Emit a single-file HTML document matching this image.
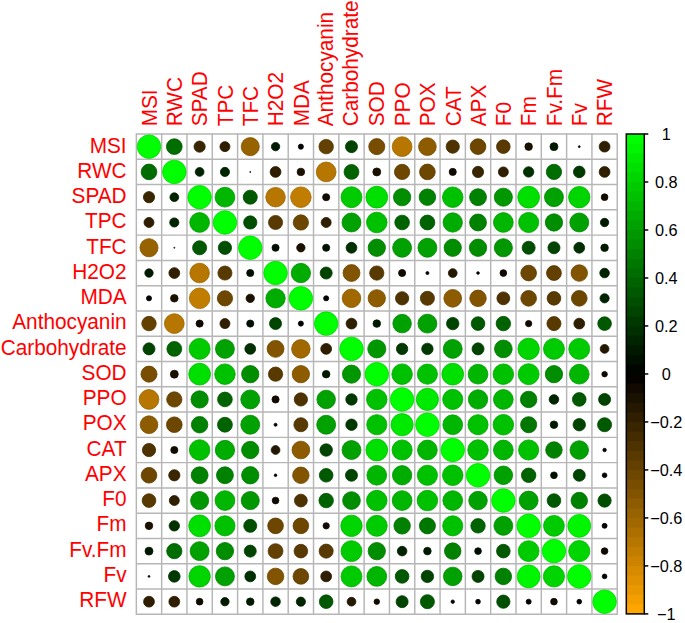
<!DOCTYPE html>
<html><head><meta charset="utf-8"><style>
html,body{margin:0;padding:0;background:#fff;}
body{width:685px;height:623px;overflow:hidden;}
svg{display:block;font-family:"Liberation Sans",sans-serif;}
</style></head><body>
<svg width="685" height="623" viewBox="0 0 685 623">
<rect width="685" height="623" fill="#fff"/>
<g stroke="#B6B6B6" stroke-width="1.45"><line x1="136.35" y1="133.28" x2="136.35" y2="615.05"/><line x1="136.35" y1="134.00" x2="617.24" y2="134.00"/><line x1="161.66" y1="133.28" x2="161.66" y2="615.05"/><line x1="136.35" y1="159.28" x2="617.24" y2="159.28"/><line x1="186.97" y1="133.28" x2="186.97" y2="615.05"/><line x1="136.35" y1="184.56" x2="617.24" y2="184.56"/><line x1="212.28" y1="133.28" x2="212.28" y2="615.05"/><line x1="136.35" y1="209.84" x2="617.24" y2="209.84"/><line x1="237.59" y1="133.28" x2="237.59" y2="615.05"/><line x1="136.35" y1="235.12" x2="617.24" y2="235.12"/><line x1="262.90" y1="133.28" x2="262.90" y2="615.05"/><line x1="136.35" y1="260.40" x2="617.24" y2="260.40"/><line x1="288.21" y1="133.28" x2="288.21" y2="615.05"/><line x1="136.35" y1="285.68" x2="617.24" y2="285.68"/><line x1="313.52" y1="133.28" x2="313.52" y2="615.05"/><line x1="136.35" y1="310.96" x2="617.24" y2="310.96"/><line x1="338.83" y1="133.28" x2="338.83" y2="615.05"/><line x1="136.35" y1="336.24" x2="617.24" y2="336.24"/><line x1="364.14" y1="133.28" x2="364.14" y2="615.05"/><line x1="136.35" y1="361.52" x2="617.24" y2="361.52"/><line x1="389.45" y1="133.28" x2="389.45" y2="615.05"/><line x1="136.35" y1="386.80" x2="617.24" y2="386.80"/><line x1="414.76" y1="133.28" x2="414.76" y2="615.05"/><line x1="136.35" y1="412.08" x2="617.24" y2="412.08"/><line x1="440.07" y1="133.28" x2="440.07" y2="615.05"/><line x1="136.35" y1="437.36" x2="617.24" y2="437.36"/><line x1="465.38" y1="133.28" x2="465.38" y2="615.05"/><line x1="136.35" y1="462.64" x2="617.24" y2="462.64"/><line x1="490.69" y1="133.28" x2="490.69" y2="615.05"/><line x1="136.35" y1="487.92" x2="617.24" y2="487.92"/><line x1="516.00" y1="133.28" x2="516.00" y2="615.05"/><line x1="136.35" y1="513.20" x2="617.24" y2="513.20"/><line x1="541.31" y1="133.28" x2="541.31" y2="615.05"/><line x1="136.35" y1="538.48" x2="617.24" y2="538.48"/><line x1="566.62" y1="133.28" x2="566.62" y2="615.05"/><line x1="136.35" y1="563.76" x2="617.24" y2="563.76"/><line x1="591.93" y1="133.28" x2="591.93" y2="615.05"/><line x1="136.35" y1="589.04" x2="617.24" y2="589.04"/><line x1="617.24" y1="133.28" x2="617.24" y2="615.05"/><line x1="136.35" y1="614.32" x2="617.24" y2="614.32"/></g><g><circle cx="149.00" cy="146.64" r="11.75" fill="#00FF00" stroke="#00D900" stroke-width="0.8"/><circle cx="174.31" cy="146.64" r="7.84" fill="#006D00" stroke="#005D00" stroke-width="0.8"/><circle cx="199.62" cy="146.64" r="5.60" fill="#392500" stroke="#301F00" stroke-width="0.8"/><circle cx="224.94" cy="146.64" r="4.99" fill="#2F1E00" stroke="#281A00" stroke-width="0.8"/><circle cx="250.25" cy="146.64" r="9.06" fill="#976200" stroke="#805300" stroke-width="0.8"/><circle cx="275.55" cy="146.64" r="4.18" fill="#001A00" stroke="#001600" stroke-width="0.8"/><circle cx="300.87" cy="146.64" r="2.55" fill="#050300" stroke="#040300" stroke-width="0.8"/><circle cx="326.17" cy="146.64" r="7.23" fill="#634000" stroke="#543600" stroke-width="0.8"/><circle cx="351.49" cy="146.64" r="6.01" fill="#004400" stroke="#003A00" stroke-width="0.8"/><circle cx="376.79" cy="146.64" r="8.04" fill="#784D00" stroke="#664100" stroke-width="0.8"/><circle cx="402.11" cy="146.64" r="9.88" fill="#B67600" stroke="#9B6400" stroke-width="0.8"/><circle cx="427.41" cy="146.64" r="8.86" fill="#8D5B00" stroke="#784D00" stroke-width="0.8"/><circle cx="452.73" cy="146.64" r="6.62" fill="#4E3300" stroke="#422B00" stroke-width="0.8"/><circle cx="478.03" cy="146.64" r="7.84" fill="#6D4700" stroke="#5D3C00" stroke-width="0.8"/><circle cx="503.35" cy="146.64" r="6.82" fill="#583900" stroke="#4B3000" stroke-width="0.8"/><circle cx="528.65" cy="146.64" r="3.77" fill="#1A1100" stroke="#160E00" stroke-width="0.8"/><circle cx="553.96" cy="146.64" r="3.97" fill="#001A00" stroke="#001600" stroke-width="0.8"/><circle cx="579.27" cy="146.64" r="0.92" fill="#000500" stroke="#000400" stroke-width="0.8"/><circle cx="604.58" cy="146.64" r="5.40" fill="#2F1E00" stroke="#281A00" stroke-width="0.8"/><circle cx="149.00" cy="171.92" r="7.84" fill="#006D00" stroke="#005D00" stroke-width="0.8"/><circle cx="174.31" cy="171.92" r="11.75" fill="#00FF00" stroke="#00D900" stroke-width="0.8"/><circle cx="199.62" cy="171.92" r="4.38" fill="#002400" stroke="#001F00" stroke-width="0.8"/><circle cx="224.94" cy="171.92" r="4.58" fill="#002400" stroke="#001F00" stroke-width="0.8"/><circle cx="250.25" cy="171.92" r="0.51" fill="#000500" stroke="#000400" stroke-width="0.8"/><circle cx="275.55" cy="171.92" r="5.40" fill="#2F1E00" stroke="#281A00" stroke-width="0.8"/><circle cx="300.87" cy="171.92" r="3.77" fill="#1A1100" stroke="#160E00" stroke-width="0.8"/><circle cx="326.17" cy="171.92" r="9.88" fill="#B67600" stroke="#9B6400" stroke-width="0.8"/><circle cx="351.49" cy="171.92" r="7.43" fill="#006300" stroke="#005400" stroke-width="0.8"/><circle cx="376.79" cy="171.92" r="3.97" fill="#1A1100" stroke="#160E00" stroke-width="0.8"/><circle cx="402.11" cy="171.92" r="7.64" fill="#6D4700" stroke="#5D3C00" stroke-width="0.8"/><circle cx="427.41" cy="171.92" r="7.84" fill="#6D4700" stroke="#5D3C00" stroke-width="0.8"/><circle cx="452.73" cy="171.92" r="3.57" fill="#100A00" stroke="#0E0800" stroke-width="0.8"/><circle cx="478.03" cy="171.92" r="5.60" fill="#392500" stroke="#301F00" stroke-width="0.8"/><circle cx="503.35" cy="171.92" r="4.99" fill="#2F1E00" stroke="#281A00" stroke-width="0.8"/><circle cx="528.65" cy="171.92" r="5.19" fill="#002F00" stroke="#002800" stroke-width="0.8"/><circle cx="553.96" cy="171.92" r="7.64" fill="#006D00" stroke="#005D00" stroke-width="0.8"/><circle cx="579.27" cy="171.92" r="5.81" fill="#003900" stroke="#003000" stroke-width="0.8"/><circle cx="604.58" cy="171.92" r="5.40" fill="#2F1E00" stroke="#281A00" stroke-width="0.8"/><circle cx="149.00" cy="197.20" r="5.60" fill="#392500" stroke="#301F00" stroke-width="0.8"/><circle cx="174.31" cy="197.20" r="4.38" fill="#002400" stroke="#001F00" stroke-width="0.8"/><circle cx="199.62" cy="197.20" r="11.75" fill="#00FF00" stroke="#00D900" stroke-width="0.8"/><circle cx="224.94" cy="197.20" r="9.88" fill="#00B600" stroke="#009B00" stroke-width="0.8"/><circle cx="250.25" cy="197.20" r="7.03" fill="#005800" stroke="#004B00" stroke-width="0.8"/><circle cx="275.55" cy="197.20" r="9.78" fill="#B67600" stroke="#9B6400" stroke-width="0.8"/><circle cx="300.87" cy="197.20" r="10.28" fill="#C17D00" stroke="#A46A00" stroke-width="0.8"/><circle cx="326.17" cy="197.20" r="3.57" fill="#100A00" stroke="#0E0800" stroke-width="0.8"/><circle cx="351.49" cy="197.20" r="10.49" fill="#00CB00" stroke="#00AD00" stroke-width="0.8"/><circle cx="376.79" cy="197.20" r="10.89" fill="#00E000" stroke="#00BE00" stroke-width="0.8"/><circle cx="402.11" cy="197.20" r="8.66" fill="#008D00" stroke="#007800" stroke-width="0.8"/><circle cx="427.41" cy="197.20" r="8.25" fill="#008200" stroke="#006E00" stroke-width="0.8"/><circle cx="452.73" cy="197.20" r="10.28" fill="#00C100" stroke="#00A400" stroke-width="0.8"/><circle cx="478.03" cy="197.20" r="8.45" fill="#008200" stroke="#006E00" stroke-width="0.8"/><circle cx="503.35" cy="197.20" r="9.06" fill="#009700" stroke="#008000" stroke-width="0.8"/><circle cx="528.65" cy="197.20" r="10.89" fill="#00E000" stroke="#00BE00" stroke-width="0.8"/><circle cx="553.96" cy="197.20" r="9.47" fill="#00A100" stroke="#008900" stroke-width="0.8"/><circle cx="579.27" cy="197.20" r="10.69" fill="#00D500" stroke="#00B500" stroke-width="0.8"/><circle cx="604.58" cy="197.20" r="3.36" fill="#100A00" stroke="#0E0800" stroke-width="0.8"/><circle cx="149.00" cy="222.48" r="4.99" fill="#2F1E00" stroke="#281A00" stroke-width="0.8"/><circle cx="174.31" cy="222.48" r="4.58" fill="#002400" stroke="#001F00" stroke-width="0.8"/><circle cx="199.62" cy="222.48" r="9.88" fill="#00B600" stroke="#009B00" stroke-width="0.8"/><circle cx="224.94" cy="222.48" r="11.75" fill="#00FF00" stroke="#00D900" stroke-width="0.8"/><circle cx="250.25" cy="222.48" r="6.62" fill="#004E00" stroke="#004200" stroke-width="0.8"/><circle cx="275.55" cy="222.48" r="7.03" fill="#583900" stroke="#4B3000" stroke-width="0.8"/><circle cx="300.87" cy="222.48" r="7.64" fill="#6D4700" stroke="#5D3C00" stroke-width="0.8"/><circle cx="326.17" cy="222.48" r="4.99" fill="#2F1E00" stroke="#281A00" stroke-width="0.8"/><circle cx="351.49" cy="222.48" r="9.47" fill="#00A100" stroke="#008900" stroke-width="0.8"/><circle cx="376.79" cy="222.48" r="10.28" fill="#00C100" stroke="#00A400" stroke-width="0.8"/><circle cx="402.11" cy="222.48" r="7.33" fill="#006300" stroke="#005400" stroke-width="0.8"/><circle cx="427.41" cy="222.48" r="7.43" fill="#006300" stroke="#005400" stroke-width="0.8"/><circle cx="452.73" cy="222.48" r="9.67" fill="#00AC00" stroke="#009200" stroke-width="0.8"/><circle cx="478.03" cy="222.48" r="8.45" fill="#008200" stroke="#006E00" stroke-width="0.8"/><circle cx="503.35" cy="222.48" r="9.88" fill="#00B600" stroke="#009B00" stroke-width="0.8"/><circle cx="528.65" cy="222.48" r="10.08" fill="#00C100" stroke="#00A400" stroke-width="0.8"/><circle cx="553.96" cy="222.48" r="8.66" fill="#008D00" stroke="#007800" stroke-width="0.8"/><circle cx="579.27" cy="222.48" r="9.47" fill="#00A100" stroke="#008900" stroke-width="0.8"/><circle cx="604.58" cy="222.48" r="4.18" fill="#001A00" stroke="#001600" stroke-width="0.8"/><circle cx="149.00" cy="247.76" r="9.06" fill="#976200" stroke="#805300" stroke-width="0.8"/><circle cx="174.31" cy="247.76" r="0.51" fill="#000500" stroke="#000400" stroke-width="0.8"/><circle cx="199.62" cy="247.76" r="7.03" fill="#005800" stroke="#004B00" stroke-width="0.8"/><circle cx="224.94" cy="247.76" r="6.62" fill="#004E00" stroke="#004200" stroke-width="0.8"/><circle cx="250.25" cy="247.76" r="11.75" fill="#00FF00" stroke="#00D900" stroke-width="0.8"/><circle cx="275.55" cy="247.76" r="3.57" fill="#001000" stroke="#000E00" stroke-width="0.8"/><circle cx="300.87" cy="247.76" r="4.18" fill="#1A1100" stroke="#160E00" stroke-width="0.8"/><circle cx="326.17" cy="247.76" r="3.57" fill="#001000" stroke="#000E00" stroke-width="0.8"/><circle cx="351.49" cy="247.76" r="5.40" fill="#002F00" stroke="#002800" stroke-width="0.8"/><circle cx="376.79" cy="247.76" r="8.66" fill="#008D00" stroke="#007800" stroke-width="0.8"/><circle cx="402.11" cy="247.76" r="9.47" fill="#00A100" stroke="#008900" stroke-width="0.8"/><circle cx="427.41" cy="247.76" r="9.47" fill="#00A100" stroke="#008900" stroke-width="0.8"/><circle cx="452.73" cy="247.76" r="8.66" fill="#008D00" stroke="#007800" stroke-width="0.8"/><circle cx="478.03" cy="247.76" r="8.66" fill="#008D00" stroke="#007800" stroke-width="0.8"/><circle cx="503.35" cy="247.76" r="9.06" fill="#009700" stroke="#008000" stroke-width="0.8"/><circle cx="528.65" cy="247.76" r="6.52" fill="#004E00" stroke="#004200" stroke-width="0.8"/><circle cx="553.96" cy="247.76" r="6.01" fill="#004400" stroke="#003A00" stroke-width="0.8"/><circle cx="579.27" cy="247.76" r="5.40" fill="#002F00" stroke="#002800" stroke-width="0.8"/><circle cx="604.58" cy="247.76" r="3.77" fill="#001A00" stroke="#001600" stroke-width="0.8"/><circle cx="149.00" cy="273.04" r="4.18" fill="#001A00" stroke="#001600" stroke-width="0.8"/><circle cx="174.31" cy="273.04" r="5.40" fill="#2F1E00" stroke="#281A00" stroke-width="0.8"/><circle cx="199.62" cy="273.04" r="9.78" fill="#B67600" stroke="#9B6400" stroke-width="0.8"/><circle cx="224.94" cy="273.04" r="7.03" fill="#583900" stroke="#4B3000" stroke-width="0.8"/><circle cx="250.25" cy="273.04" r="3.57" fill="#001000" stroke="#000E00" stroke-width="0.8"/><circle cx="275.55" cy="273.04" r="11.75" fill="#00FF00" stroke="#00D900" stroke-width="0.8"/><circle cx="300.87" cy="273.04" r="9.67" fill="#00AC00" stroke="#009200" stroke-width="0.8"/><circle cx="326.17" cy="273.04" r="6.01" fill="#004400" stroke="#003A00" stroke-width="0.8"/><circle cx="351.49" cy="273.04" r="8.45" fill="#825400" stroke="#6E4700" stroke-width="0.8"/><circle cx="376.79" cy="273.04" r="7.13" fill="#583900" stroke="#4B3000" stroke-width="0.8"/><circle cx="402.11" cy="273.04" r="3.57" fill="#100A00" stroke="#0E0800" stroke-width="0.8"/><circle cx="427.41" cy="273.04" r="1.53" fill="#050300" stroke="#040300" stroke-width="0.8"/><circle cx="452.73" cy="273.04" r="4.38" fill="#241800" stroke="#1F1400" stroke-width="0.8"/><circle cx="478.03" cy="273.04" r="1.33" fill="#000500" stroke="#000400" stroke-width="0.8"/><circle cx="503.35" cy="273.04" r="3.36" fill="#100A00" stroke="#0E0800" stroke-width="0.8"/><circle cx="528.65" cy="273.04" r="7.84" fill="#6D4700" stroke="#5D3C00" stroke-width="0.8"/><circle cx="553.96" cy="273.04" r="7.43" fill="#634000" stroke="#543600" stroke-width="0.8"/><circle cx="579.27" cy="273.04" r="8.25" fill="#825400" stroke="#6E4700" stroke-width="0.8"/><circle cx="604.58" cy="273.04" r="4.79" fill="#002400" stroke="#001F00" stroke-width="0.8"/><circle cx="149.00" cy="298.32" r="2.55" fill="#050300" stroke="#040300" stroke-width="0.8"/><circle cx="174.31" cy="298.32" r="3.77" fill="#1A1100" stroke="#160E00" stroke-width="0.8"/><circle cx="199.62" cy="298.32" r="10.28" fill="#C17D00" stroke="#A46A00" stroke-width="0.8"/><circle cx="224.94" cy="298.32" r="7.64" fill="#6D4700" stroke="#5D3C00" stroke-width="0.8"/><circle cx="250.25" cy="298.32" r="4.18" fill="#1A1100" stroke="#160E00" stroke-width="0.8"/><circle cx="275.55" cy="298.32" r="9.67" fill="#00AC00" stroke="#009200" stroke-width="0.8"/><circle cx="300.87" cy="298.32" r="11.75" fill="#00FF00" stroke="#00D900" stroke-width="0.8"/><circle cx="326.17" cy="298.32" r="2.55" fill="#050300" stroke="#040300" stroke-width="0.8"/><circle cx="351.49" cy="298.32" r="9.27" fill="#A16800" stroke="#895800" stroke-width="0.8"/><circle cx="376.79" cy="298.32" r="8.66" fill="#8D5B00" stroke="#784D00" stroke-width="0.8"/><circle cx="402.11" cy="298.32" r="6.62" fill="#4E3300" stroke="#422B00" stroke-width="0.8"/><circle cx="427.41" cy="298.32" r="7.03" fill="#583900" stroke="#4B3000" stroke-width="0.8"/><circle cx="452.73" cy="298.32" r="8.86" fill="#8D5B00" stroke="#784D00" stroke-width="0.8"/><circle cx="478.03" cy="298.32" r="8.25" fill="#825400" stroke="#6E4700" stroke-width="0.8"/><circle cx="503.35" cy="298.32" r="6.42" fill="#4E3300" stroke="#422B00" stroke-width="0.8"/><circle cx="528.65" cy="298.32" r="7.84" fill="#6D4700" stroke="#5D3C00" stroke-width="0.8"/><circle cx="553.96" cy="298.32" r="6.82" fill="#583900" stroke="#4B3000" stroke-width="0.8"/><circle cx="579.27" cy="298.32" r="7.84" fill="#6D4700" stroke="#5D3C00" stroke-width="0.8"/><circle cx="604.58" cy="298.32" r="4.58" fill="#002400" stroke="#001F00" stroke-width="0.8"/><circle cx="149.00" cy="323.60" r="7.23" fill="#634000" stroke="#543600" stroke-width="0.8"/><circle cx="174.31" cy="323.60" r="9.88" fill="#B67600" stroke="#9B6400" stroke-width="0.8"/><circle cx="199.62" cy="323.60" r="3.57" fill="#100A00" stroke="#0E0800" stroke-width="0.8"/><circle cx="224.94" cy="323.60" r="4.99" fill="#2F1E00" stroke="#281A00" stroke-width="0.8"/><circle cx="250.25" cy="323.60" r="3.57" fill="#001000" stroke="#000E00" stroke-width="0.8"/><circle cx="275.55" cy="323.60" r="6.01" fill="#004400" stroke="#003A00" stroke-width="0.8"/><circle cx="300.87" cy="323.60" r="2.55" fill="#050300" stroke="#040300" stroke-width="0.8"/><circle cx="326.17" cy="323.60" r="11.75" fill="#00FF00" stroke="#00D900" stroke-width="0.8"/><circle cx="351.49" cy="323.60" r="5.40" fill="#2F1E00" stroke="#281A00" stroke-width="0.8"/><circle cx="376.79" cy="323.60" r="3.77" fill="#001A00" stroke="#001600" stroke-width="0.8"/><circle cx="402.11" cy="323.60" r="9.27" fill="#00A100" stroke="#008900" stroke-width="0.8"/><circle cx="427.41" cy="323.60" r="9.47" fill="#00A100" stroke="#008900" stroke-width="0.8"/><circle cx="452.73" cy="323.60" r="6.21" fill="#004400" stroke="#003A00" stroke-width="0.8"/><circle cx="478.03" cy="323.60" r="6.82" fill="#005800" stroke="#004B00" stroke-width="0.8"/><circle cx="503.35" cy="323.60" r="7.23" fill="#006300" stroke="#005400" stroke-width="0.8"/><circle cx="528.65" cy="323.60" r="3.16" fill="#100A00" stroke="#0E0800" stroke-width="0.8"/><circle cx="553.96" cy="323.60" r="7.03" fill="#583900" stroke="#4B3000" stroke-width="0.8"/><circle cx="579.27" cy="323.60" r="5.40" fill="#2F1E00" stroke="#281A00" stroke-width="0.8"/><circle cx="604.58" cy="323.60" r="6.82" fill="#005800" stroke="#004B00" stroke-width="0.8"/><circle cx="149.00" cy="348.88" r="6.01" fill="#004400" stroke="#003A00" stroke-width="0.8"/><circle cx="174.31" cy="348.88" r="7.43" fill="#006300" stroke="#005400" stroke-width="0.8"/><circle cx="199.62" cy="348.88" r="10.49" fill="#00CB00" stroke="#00AD00" stroke-width="0.8"/><circle cx="224.94" cy="348.88" r="9.47" fill="#00A100" stroke="#008900" stroke-width="0.8"/><circle cx="250.25" cy="348.88" r="5.40" fill="#002F00" stroke="#002800" stroke-width="0.8"/><circle cx="275.55" cy="348.88" r="8.45" fill="#825400" stroke="#6E4700" stroke-width="0.8"/><circle cx="300.87" cy="348.88" r="9.27" fill="#A16800" stroke="#895800" stroke-width="0.8"/><circle cx="326.17" cy="348.88" r="5.40" fill="#2F1E00" stroke="#281A00" stroke-width="0.8"/><circle cx="351.49" cy="348.88" r="11.75" fill="#00FF00" stroke="#00D900" stroke-width="0.8"/><circle cx="376.79" cy="348.88" r="9.06" fill="#009700" stroke="#008000" stroke-width="0.8"/><circle cx="402.11" cy="348.88" r="5.70" fill="#003900" stroke="#003000" stroke-width="0.8"/><circle cx="427.41" cy="348.88" r="5.70" fill="#003900" stroke="#003000" stroke-width="0.8"/><circle cx="452.73" cy="348.88" r="9.47" fill="#00A100" stroke="#008900" stroke-width="0.8"/><circle cx="478.03" cy="348.88" r="6.01" fill="#004400" stroke="#003A00" stroke-width="0.8"/><circle cx="503.35" cy="348.88" r="8.86" fill="#008D00" stroke="#007800" stroke-width="0.8"/><circle cx="528.65" cy="348.88" r="10.69" fill="#00D500" stroke="#00B500" stroke-width="0.8"/><circle cx="553.96" cy="348.88" r="10.49" fill="#00CB00" stroke="#00AD00" stroke-width="0.8"/><circle cx="579.27" cy="348.88" r="10.49" fill="#00CB00" stroke="#00AD00" stroke-width="0.8"/><circle cx="604.58" cy="348.88" r="4.38" fill="#241800" stroke="#1F1400" stroke-width="0.8"/><circle cx="149.00" cy="374.16" r="8.04" fill="#784D00" stroke="#664100" stroke-width="0.8"/><circle cx="174.31" cy="374.16" r="3.97" fill="#1A1100" stroke="#160E00" stroke-width="0.8"/><circle cx="199.62" cy="374.16" r="10.89" fill="#00E000" stroke="#00BE00" stroke-width="0.8"/><circle cx="224.94" cy="374.16" r="10.28" fill="#00C100" stroke="#00A400" stroke-width="0.8"/><circle cx="250.25" cy="374.16" r="8.66" fill="#008D00" stroke="#007800" stroke-width="0.8"/><circle cx="275.55" cy="374.16" r="7.13" fill="#583900" stroke="#4B3000" stroke-width="0.8"/><circle cx="300.87" cy="374.16" r="8.66" fill="#8D5B00" stroke="#784D00" stroke-width="0.8"/><circle cx="326.17" cy="374.16" r="3.77" fill="#001A00" stroke="#001600" stroke-width="0.8"/><circle cx="351.49" cy="374.16" r="9.06" fill="#009700" stroke="#008000" stroke-width="0.8"/><circle cx="376.79" cy="374.16" r="11.75" fill="#00FF00" stroke="#00D900" stroke-width="0.8"/><circle cx="402.11" cy="374.16" r="10.28" fill="#00C100" stroke="#00A400" stroke-width="0.8"/><circle cx="427.41" cy="374.16" r="10.08" fill="#00C100" stroke="#00A400" stroke-width="0.8"/><circle cx="452.73" cy="374.16" r="10.89" fill="#00E000" stroke="#00BE00" stroke-width="0.8"/><circle cx="478.03" cy="374.16" r="9.88" fill="#00B600" stroke="#009B00" stroke-width="0.8"/><circle cx="503.35" cy="374.16" r="10.28" fill="#00C100" stroke="#00A400" stroke-width="0.8"/><circle cx="528.65" cy="374.16" r="10.49" fill="#00CB00" stroke="#00AD00" stroke-width="0.8"/><circle cx="553.96" cy="374.16" r="8.66" fill="#008D00" stroke="#007800" stroke-width="0.8"/><circle cx="579.27" cy="374.16" r="9.88" fill="#00B600" stroke="#009B00" stroke-width="0.8"/><circle cx="604.58" cy="374.16" r="2.75" fill="#100A00" stroke="#0E0800" stroke-width="0.8"/><circle cx="149.00" cy="399.44" r="9.88" fill="#B67600" stroke="#9B6400" stroke-width="0.8"/><circle cx="174.31" cy="399.44" r="7.64" fill="#6D4700" stroke="#5D3C00" stroke-width="0.8"/><circle cx="199.62" cy="399.44" r="8.66" fill="#008D00" stroke="#007800" stroke-width="0.8"/><circle cx="224.94" cy="399.44" r="7.33" fill="#006300" stroke="#005400" stroke-width="0.8"/><circle cx="250.25" cy="399.44" r="9.47" fill="#00A100" stroke="#008900" stroke-width="0.8"/><circle cx="275.55" cy="399.44" r="3.57" fill="#100A00" stroke="#0E0800" stroke-width="0.8"/><circle cx="300.87" cy="399.44" r="6.62" fill="#4E3300" stroke="#422B00" stroke-width="0.8"/><circle cx="326.17" cy="399.44" r="9.27" fill="#00A100" stroke="#008900" stroke-width="0.8"/><circle cx="351.49" cy="399.44" r="5.70" fill="#003900" stroke="#003000" stroke-width="0.8"/><circle cx="376.79" cy="399.44" r="10.28" fill="#00C100" stroke="#00A400" stroke-width="0.8"/><circle cx="402.11" cy="399.44" r="11.75" fill="#00FF00" stroke="#00D900" stroke-width="0.8"/><circle cx="427.41" cy="399.44" r="11.10" fill="#00EA00" stroke="#00C700" stroke-width="0.8"/><circle cx="452.73" cy="399.44" r="10.08" fill="#00C100" stroke="#00A400" stroke-width="0.8"/><circle cx="478.03" cy="399.44" r="9.67" fill="#00AC00" stroke="#009200" stroke-width="0.8"/><circle cx="503.35" cy="399.44" r="9.88" fill="#00B600" stroke="#009B00" stroke-width="0.8"/><circle cx="528.65" cy="399.44" r="8.25" fill="#008200" stroke="#006E00" stroke-width="0.8"/><circle cx="553.96" cy="399.44" r="4.79" fill="#002400" stroke="#001F00" stroke-width="0.8"/><circle cx="579.27" cy="399.44" r="6.82" fill="#005800" stroke="#004B00" stroke-width="0.8"/><circle cx="604.58" cy="399.44" r="6.01" fill="#004400" stroke="#003A00" stroke-width="0.8"/><circle cx="149.00" cy="424.72" r="8.86" fill="#8D5B00" stroke="#784D00" stroke-width="0.8"/><circle cx="174.31" cy="424.72" r="7.84" fill="#6D4700" stroke="#5D3C00" stroke-width="0.8"/><circle cx="199.62" cy="424.72" r="8.25" fill="#008200" stroke="#006E00" stroke-width="0.8"/><circle cx="224.94" cy="424.72" r="7.43" fill="#006300" stroke="#005400" stroke-width="0.8"/><circle cx="250.25" cy="424.72" r="9.47" fill="#00A100" stroke="#008900" stroke-width="0.8"/><circle cx="275.55" cy="424.72" r="1.53" fill="#050300" stroke="#040300" stroke-width="0.8"/><circle cx="300.87" cy="424.72" r="7.03" fill="#583900" stroke="#4B3000" stroke-width="0.8"/><circle cx="326.17" cy="424.72" r="9.47" fill="#00A100" stroke="#008900" stroke-width="0.8"/><circle cx="351.49" cy="424.72" r="5.70" fill="#003900" stroke="#003000" stroke-width="0.8"/><circle cx="376.79" cy="424.72" r="10.08" fill="#00C100" stroke="#00A400" stroke-width="0.8"/><circle cx="402.11" cy="424.72" r="11.10" fill="#00EA00" stroke="#00C700" stroke-width="0.8"/><circle cx="427.41" cy="424.72" r="11.75" fill="#00FF00" stroke="#00D900" stroke-width="0.8"/><circle cx="452.73" cy="424.72" r="9.88" fill="#00B600" stroke="#009B00" stroke-width="0.8"/><circle cx="478.03" cy="424.72" r="10.08" fill="#00C100" stroke="#00A400" stroke-width="0.8"/><circle cx="503.35" cy="424.72" r="10.28" fill="#00C100" stroke="#00A400" stroke-width="0.8"/><circle cx="528.65" cy="424.72" r="8.04" fill="#007800" stroke="#006600" stroke-width="0.8"/><circle cx="553.96" cy="424.72" r="3.77" fill="#001A00" stroke="#001600" stroke-width="0.8"/><circle cx="579.27" cy="424.72" r="6.21" fill="#004400" stroke="#003A00" stroke-width="0.8"/><circle cx="604.58" cy="424.72" r="7.03" fill="#005800" stroke="#004B00" stroke-width="0.8"/><circle cx="149.00" cy="450.00" r="6.62" fill="#4E3300" stroke="#422B00" stroke-width="0.8"/><circle cx="174.31" cy="450.00" r="3.57" fill="#100A00" stroke="#0E0800" stroke-width="0.8"/><circle cx="199.62" cy="450.00" r="10.28" fill="#00C100" stroke="#00A400" stroke-width="0.8"/><circle cx="224.94" cy="450.00" r="9.67" fill="#00AC00" stroke="#009200" stroke-width="0.8"/><circle cx="250.25" cy="450.00" r="8.66" fill="#008D00" stroke="#007800" stroke-width="0.8"/><circle cx="275.55" cy="450.00" r="4.38" fill="#241800" stroke="#1F1400" stroke-width="0.8"/><circle cx="300.87" cy="450.00" r="8.86" fill="#8D5B00" stroke="#784D00" stroke-width="0.8"/><circle cx="326.17" cy="450.00" r="6.21" fill="#004400" stroke="#003A00" stroke-width="0.8"/><circle cx="351.49" cy="450.00" r="9.47" fill="#00A100" stroke="#008900" stroke-width="0.8"/><circle cx="376.79" cy="450.00" r="10.89" fill="#00E000" stroke="#00BE00" stroke-width="0.8"/><circle cx="402.11" cy="450.00" r="10.08" fill="#00C100" stroke="#00A400" stroke-width="0.8"/><circle cx="427.41" cy="450.00" r="9.88" fill="#00B600" stroke="#009B00" stroke-width="0.8"/><circle cx="452.73" cy="450.00" r="11.75" fill="#00FF00" stroke="#00D900" stroke-width="0.8"/><circle cx="478.03" cy="450.00" r="10.28" fill="#00C100" stroke="#00A400" stroke-width="0.8"/><circle cx="503.35" cy="450.00" r="9.88" fill="#00B600" stroke="#009B00" stroke-width="0.8"/><circle cx="528.65" cy="450.00" r="10.08" fill="#00C100" stroke="#00A400" stroke-width="0.8"/><circle cx="553.96" cy="450.00" r="8.25" fill="#008200" stroke="#006E00" stroke-width="0.8"/><circle cx="579.27" cy="450.00" r="9.27" fill="#00A100" stroke="#008900" stroke-width="0.8"/><circle cx="604.58" cy="450.00" r="1.73" fill="#000500" stroke="#000400" stroke-width="0.8"/><circle cx="149.00" cy="475.28" r="7.84" fill="#6D4700" stroke="#5D3C00" stroke-width="0.8"/><circle cx="174.31" cy="475.28" r="5.60" fill="#392500" stroke="#301F00" stroke-width="0.8"/><circle cx="199.62" cy="475.28" r="8.45" fill="#008200" stroke="#006E00" stroke-width="0.8"/><circle cx="224.94" cy="475.28" r="8.45" fill="#008200" stroke="#006E00" stroke-width="0.8"/><circle cx="250.25" cy="475.28" r="8.66" fill="#008D00" stroke="#007800" stroke-width="0.8"/><circle cx="275.55" cy="475.28" r="1.33" fill="#000500" stroke="#000400" stroke-width="0.8"/><circle cx="300.87" cy="475.28" r="8.25" fill="#825400" stroke="#6E4700" stroke-width="0.8"/><circle cx="326.17" cy="475.28" r="6.82" fill="#005800" stroke="#004B00" stroke-width="0.8"/><circle cx="351.49" cy="475.28" r="6.01" fill="#004400" stroke="#003A00" stroke-width="0.8"/><circle cx="376.79" cy="475.28" r="9.88" fill="#00B600" stroke="#009B00" stroke-width="0.8"/><circle cx="402.11" cy="475.28" r="9.67" fill="#00AC00" stroke="#009200" stroke-width="0.8"/><circle cx="427.41" cy="475.28" r="10.08" fill="#00C100" stroke="#00A400" stroke-width="0.8"/><circle cx="452.73" cy="475.28" r="10.28" fill="#00C100" stroke="#00A400" stroke-width="0.8"/><circle cx="478.03" cy="475.28" r="11.75" fill="#00FF00" stroke="#00D900" stroke-width="0.8"/><circle cx="503.35" cy="475.28" r="9.27" fill="#00A100" stroke="#008900" stroke-width="0.8"/><circle cx="528.65" cy="475.28" r="7.23" fill="#006300" stroke="#005400" stroke-width="0.8"/><circle cx="553.96" cy="475.28" r="3.36" fill="#001000" stroke="#000E00" stroke-width="0.8"/><circle cx="579.27" cy="475.28" r="6.01" fill="#004400" stroke="#003A00" stroke-width="0.8"/><circle cx="604.58" cy="475.28" r="2.35" fill="#000500" stroke="#000400" stroke-width="0.8"/><circle cx="149.00" cy="500.56" r="6.82" fill="#583900" stroke="#4B3000" stroke-width="0.8"/><circle cx="174.31" cy="500.56" r="4.99" fill="#2F1E00" stroke="#281A00" stroke-width="0.8"/><circle cx="199.62" cy="500.56" r="9.06" fill="#009700" stroke="#008000" stroke-width="0.8"/><circle cx="224.94" cy="500.56" r="9.88" fill="#00B600" stroke="#009B00" stroke-width="0.8"/><circle cx="250.25" cy="500.56" r="9.06" fill="#009700" stroke="#008000" stroke-width="0.8"/><circle cx="275.55" cy="500.56" r="3.36" fill="#100A00" stroke="#0E0800" stroke-width="0.8"/><circle cx="300.87" cy="500.56" r="6.42" fill="#4E3300" stroke="#422B00" stroke-width="0.8"/><circle cx="326.17" cy="500.56" r="7.23" fill="#006300" stroke="#005400" stroke-width="0.8"/><circle cx="351.49" cy="500.56" r="8.86" fill="#008D00" stroke="#007800" stroke-width="0.8"/><circle cx="376.79" cy="500.56" r="10.28" fill="#00C100" stroke="#00A400" stroke-width="0.8"/><circle cx="402.11" cy="500.56" r="9.88" fill="#00B600" stroke="#009B00" stroke-width="0.8"/><circle cx="427.41" cy="500.56" r="10.28" fill="#00C100" stroke="#00A400" stroke-width="0.8"/><circle cx="452.73" cy="500.56" r="9.88" fill="#00B600" stroke="#009B00" stroke-width="0.8"/><circle cx="478.03" cy="500.56" r="9.27" fill="#00A100" stroke="#008900" stroke-width="0.8"/><circle cx="503.35" cy="500.56" r="11.75" fill="#00FF00" stroke="#00D900" stroke-width="0.8"/><circle cx="528.65" cy="500.56" r="9.47" fill="#00A100" stroke="#008900" stroke-width="0.8"/><circle cx="553.96" cy="500.56" r="6.82" fill="#005800" stroke="#004B00" stroke-width="0.8"/><circle cx="579.27" cy="500.56" r="8.25" fill="#008200" stroke="#006E00" stroke-width="0.8"/><circle cx="604.58" cy="500.56" r="6.62" fill="#004E00" stroke="#004200" stroke-width="0.8"/><circle cx="149.00" cy="525.84" r="3.77" fill="#1A1100" stroke="#160E00" stroke-width="0.8"/><circle cx="174.31" cy="525.84" r="5.19" fill="#002F00" stroke="#002800" stroke-width="0.8"/><circle cx="199.62" cy="525.84" r="10.89" fill="#00E000" stroke="#00BE00" stroke-width="0.8"/><circle cx="224.94" cy="525.84" r="10.08" fill="#00C100" stroke="#00A400" stroke-width="0.8"/><circle cx="250.25" cy="525.84" r="6.52" fill="#004E00" stroke="#004200" stroke-width="0.8"/><circle cx="275.55" cy="525.84" r="7.84" fill="#6D4700" stroke="#5D3C00" stroke-width="0.8"/><circle cx="300.87" cy="525.84" r="7.84" fill="#6D4700" stroke="#5D3C00" stroke-width="0.8"/><circle cx="326.17" cy="525.84" r="3.16" fill="#100A00" stroke="#0E0800" stroke-width="0.8"/><circle cx="351.49" cy="525.84" r="10.69" fill="#00D500" stroke="#00B500" stroke-width="0.8"/><circle cx="376.79" cy="525.84" r="10.49" fill="#00CB00" stroke="#00AD00" stroke-width="0.8"/><circle cx="402.11" cy="525.84" r="8.25" fill="#008200" stroke="#006E00" stroke-width="0.8"/><circle cx="427.41" cy="525.84" r="8.04" fill="#007800" stroke="#006600" stroke-width="0.8"/><circle cx="452.73" cy="525.84" r="10.08" fill="#00C100" stroke="#00A400" stroke-width="0.8"/><circle cx="478.03" cy="525.84" r="7.23" fill="#006300" stroke="#005400" stroke-width="0.8"/><circle cx="503.35" cy="525.84" r="9.47" fill="#00A100" stroke="#008900" stroke-width="0.8"/><circle cx="528.65" cy="525.84" r="11.75" fill="#00FF00" stroke="#00D900" stroke-width="0.8"/><circle cx="553.96" cy="525.84" r="10.43" fill="#00CB00" stroke="#00AD00" stroke-width="0.8"/><circle cx="579.27" cy="525.84" r="11.42" fill="#00F500" stroke="#00D000" stroke-width="0.8"/><circle cx="604.58" cy="525.84" r="2.51" fill="#000500" stroke="#000400" stroke-width="0.8"/><circle cx="149.00" cy="551.12" r="3.97" fill="#001A00" stroke="#001600" stroke-width="0.8"/><circle cx="174.31" cy="551.12" r="7.64" fill="#006D00" stroke="#005D00" stroke-width="0.8"/><circle cx="199.62" cy="551.12" r="9.47" fill="#00A100" stroke="#008900" stroke-width="0.8"/><circle cx="224.94" cy="551.12" r="8.66" fill="#008D00" stroke="#007800" stroke-width="0.8"/><circle cx="250.25" cy="551.12" r="6.01" fill="#004400" stroke="#003A00" stroke-width="0.8"/><circle cx="275.55" cy="551.12" r="7.43" fill="#634000" stroke="#543600" stroke-width="0.8"/><circle cx="300.87" cy="551.12" r="6.82" fill="#583900" stroke="#4B3000" stroke-width="0.8"/><circle cx="326.17" cy="551.12" r="7.03" fill="#583900" stroke="#4B3000" stroke-width="0.8"/><circle cx="351.49" cy="551.12" r="10.49" fill="#00CB00" stroke="#00AD00" stroke-width="0.8"/><circle cx="376.79" cy="551.12" r="8.66" fill="#008D00" stroke="#007800" stroke-width="0.8"/><circle cx="402.11" cy="551.12" r="4.79" fill="#002400" stroke="#001F00" stroke-width="0.8"/><circle cx="427.41" cy="551.12" r="3.77" fill="#001A00" stroke="#001600" stroke-width="0.8"/><circle cx="452.73" cy="551.12" r="8.25" fill="#008200" stroke="#006E00" stroke-width="0.8"/><circle cx="478.03" cy="551.12" r="3.36" fill="#001000" stroke="#000E00" stroke-width="0.8"/><circle cx="503.35" cy="551.12" r="6.82" fill="#005800" stroke="#004B00" stroke-width="0.8"/><circle cx="528.65" cy="551.12" r="10.43" fill="#00CB00" stroke="#00AD00" stroke-width="0.8"/><circle cx="553.96" cy="551.12" r="11.75" fill="#00FF00" stroke="#00D900" stroke-width="0.8"/><circle cx="579.27" cy="551.12" r="10.59" fill="#00D500" stroke="#00B500" stroke-width="0.8"/><circle cx="604.58" cy="551.12" r="3.33" fill="#100A00" stroke="#0E0800" stroke-width="0.8"/><circle cx="149.00" cy="576.40" r="0.92" fill="#000500" stroke="#000400" stroke-width="0.8"/><circle cx="174.31" cy="576.40" r="5.81" fill="#003900" stroke="#003000" stroke-width="0.8"/><circle cx="199.62" cy="576.40" r="10.69" fill="#00D500" stroke="#00B500" stroke-width="0.8"/><circle cx="224.94" cy="576.40" r="9.47" fill="#00A100" stroke="#008900" stroke-width="0.8"/><circle cx="250.25" cy="576.40" r="5.40" fill="#002F00" stroke="#002800" stroke-width="0.8"/><circle cx="275.55" cy="576.40" r="8.25" fill="#825400" stroke="#6E4700" stroke-width="0.8"/><circle cx="300.87" cy="576.40" r="7.84" fill="#6D4700" stroke="#5D3C00" stroke-width="0.8"/><circle cx="326.17" cy="576.40" r="5.40" fill="#2F1E00" stroke="#281A00" stroke-width="0.8"/><circle cx="351.49" cy="576.40" r="10.49" fill="#00CB00" stroke="#00AD00" stroke-width="0.8"/><circle cx="376.79" cy="576.40" r="9.88" fill="#00B600" stroke="#009B00" stroke-width="0.8"/><circle cx="402.11" cy="576.40" r="6.82" fill="#005800" stroke="#004B00" stroke-width="0.8"/><circle cx="427.41" cy="576.40" r="6.21" fill="#004400" stroke="#003A00" stroke-width="0.8"/><circle cx="452.73" cy="576.40" r="9.27" fill="#00A100" stroke="#008900" stroke-width="0.8"/><circle cx="478.03" cy="576.40" r="6.01" fill="#004400" stroke="#003A00" stroke-width="0.8"/><circle cx="503.35" cy="576.40" r="8.25" fill="#008200" stroke="#006E00" stroke-width="0.8"/><circle cx="528.65" cy="576.40" r="11.42" fill="#00F500" stroke="#00D000" stroke-width="0.8"/><circle cx="553.96" cy="576.40" r="10.59" fill="#00D500" stroke="#00B500" stroke-width="0.8"/><circle cx="579.27" cy="576.40" r="11.75" fill="#00FF00" stroke="#00D900" stroke-width="0.8"/><circle cx="604.58" cy="576.40" r="2.35" fill="#000500" stroke="#000400" stroke-width="0.8"/><circle cx="149.00" cy="601.68" r="5.40" fill="#2F1E00" stroke="#281A00" stroke-width="0.8"/><circle cx="174.31" cy="601.68" r="5.40" fill="#2F1E00" stroke="#281A00" stroke-width="0.8"/><circle cx="199.62" cy="601.68" r="3.36" fill="#100A00" stroke="#0E0800" stroke-width="0.8"/><circle cx="224.94" cy="601.68" r="4.18" fill="#001A00" stroke="#001600" stroke-width="0.8"/><circle cx="250.25" cy="601.68" r="3.77" fill="#001A00" stroke="#001600" stroke-width="0.8"/><circle cx="275.55" cy="601.68" r="4.79" fill="#002400" stroke="#001F00" stroke-width="0.8"/><circle cx="300.87" cy="601.68" r="4.58" fill="#002400" stroke="#001F00" stroke-width="0.8"/><circle cx="326.17" cy="601.68" r="6.82" fill="#005800" stroke="#004B00" stroke-width="0.8"/><circle cx="351.49" cy="601.68" r="4.38" fill="#241800" stroke="#1F1400" stroke-width="0.8"/><circle cx="376.79" cy="601.68" r="2.75" fill="#100A00" stroke="#0E0800" stroke-width="0.8"/><circle cx="402.11" cy="601.68" r="6.01" fill="#004400" stroke="#003A00" stroke-width="0.8"/><circle cx="427.41" cy="601.68" r="7.03" fill="#005800" stroke="#004B00" stroke-width="0.8"/><circle cx="452.73" cy="601.68" r="1.73" fill="#000500" stroke="#000400" stroke-width="0.8"/><circle cx="478.03" cy="601.68" r="2.35" fill="#000500" stroke="#000400" stroke-width="0.8"/><circle cx="503.35" cy="601.68" r="6.62" fill="#004E00" stroke="#004200" stroke-width="0.8"/><circle cx="528.65" cy="601.68" r="2.51" fill="#000500" stroke="#000400" stroke-width="0.8"/><circle cx="553.96" cy="601.68" r="3.33" fill="#100A00" stroke="#0E0800" stroke-width="0.8"/><circle cx="579.27" cy="601.68" r="2.35" fill="#000500" stroke="#000400" stroke-width="0.8"/><circle cx="604.58" cy="601.68" r="11.75" fill="#00FF00" stroke="#00D900" stroke-width="0.8"/></g><g fill="#FF0000" font-size="20.8"><text transform="translate(126.6,152.64) scale(1,1.08)" text-anchor="end">MSI</text><text transform="translate(126.6,177.89) scale(1,1.08)" text-anchor="end">RWC</text><text transform="translate(126.6,203.13) scale(1,1.08)" text-anchor="end">SPAD</text><text transform="translate(126.6,228.38) scale(1,1.08)" text-anchor="end">TPC</text><text transform="translate(126.6,253.62) scale(1,1.08)" text-anchor="end">TFC</text><text transform="translate(126.6,278.87) scale(1,1.08)" text-anchor="end">H2O2</text><text transform="translate(126.6,304.11) scale(1,1.08)" text-anchor="end">MDA</text><text transform="translate(126.6,329.36) scale(1,1.08)" text-anchor="end">Anthocyanin</text><text transform="translate(126.6,354.60) scale(1,1.08)" text-anchor="end">Carbohydrate</text><text transform="translate(126.6,379.85) scale(1,1.08)" text-anchor="end">SOD</text><text transform="translate(126.6,405.09) scale(1,1.08)" text-anchor="end">PPO</text><text transform="translate(126.6,430.34) scale(1,1.08)" text-anchor="end">POX</text><text transform="translate(126.6,455.58) scale(1,1.08)" text-anchor="end">CAT</text><text transform="translate(126.6,480.83) scale(1,1.08)" text-anchor="end">APX</text><text transform="translate(126.6,506.07) scale(1,1.08)" text-anchor="end">F0</text><text transform="translate(126.6,531.32) scale(1,1.08)" text-anchor="end">Fm</text><text transform="translate(126.6,556.56) scale(1,1.08)" text-anchor="end">Fv.Fm</text><text transform="translate(126.6,581.81) scale(1,1.08)" text-anchor="end">Fv</text><text transform="translate(126.6,607.05) scale(1,1.08)" text-anchor="end">RFW</text><text transform="translate(156.81,126.3) rotate(-90) scale(1,1.08)">MSI</text><text transform="translate(182.12,126.3) rotate(-90) scale(1,1.08)">RWC</text><text transform="translate(207.43,126.3) rotate(-90) scale(1,1.08)">SPAD</text><text transform="translate(232.74,126.3) rotate(-90) scale(1,1.08)">TPC</text><text transform="translate(258.05,126.3) rotate(-90) scale(1,1.08)">TFC</text><text transform="translate(283.35,126.3) rotate(-90) scale(1,1.08)">H2O2</text><text transform="translate(308.67,126.3) rotate(-90) scale(1,1.08)">MDA</text><text transform="translate(333.17,126.3) rotate(-90) scale(1,1.08)">Anthocyanin</text><text transform="translate(357.69,126.3) rotate(-90) scale(1,1.08)">Carbohydrate</text><text transform="translate(383.79,126.3) rotate(-90) scale(1,1.08)">SOD</text><text transform="translate(409.91,126.3) rotate(-90) scale(1,1.08)">PPO</text><text transform="translate(435.21,126.3) rotate(-90) scale(1,1.08)">POX</text><text transform="translate(460.53,126.3) rotate(-90) scale(1,1.08)">CAT</text><text transform="translate(485.83,126.3) rotate(-90) scale(1,1.08)">APX</text><text transform="translate(511.15,126.3) rotate(-90) scale(1,1.08)">F0</text><text transform="translate(536.45,126.3) rotate(-90) scale(1,1.08)">Fm</text><text transform="translate(561.76,126.3) rotate(-90) scale(1,1.08)">Fv.Fm</text><text transform="translate(587.07,126.3) rotate(-90) scale(1,1.08)">Fv</text><text transform="translate(612.38,126.3) rotate(-90) scale(1,1.08)">RFW</text></g><g><rect x="626.3" y="134.00" width="18.0" height="479.90" fill="#00FF00"/><rect x="626.3" y="143.60" width="18.0" height="470.30" fill="#00F500"/><rect x="626.3" y="153.20" width="18.0" height="460.70" fill="#00EA00"/><rect x="626.3" y="162.79" width="18.0" height="451.11" fill="#00E000"/><rect x="626.3" y="172.39" width="18.0" height="441.51" fill="#00D500"/><rect x="626.3" y="181.99" width="18.0" height="431.91" fill="#00CB00"/><rect x="626.3" y="191.59" width="18.0" height="422.31" fill="#00C100"/><rect x="626.3" y="201.19" width="18.0" height="412.71" fill="#00B600"/><rect x="626.3" y="210.78" width="18.0" height="403.12" fill="#00AC00"/><rect x="626.3" y="220.38" width="18.0" height="393.52" fill="#00A100"/><rect x="626.3" y="229.98" width="18.0" height="383.92" fill="#009700"/><rect x="626.3" y="239.58" width="18.0" height="374.32" fill="#008D00"/><rect x="626.3" y="249.18" width="18.0" height="364.72" fill="#008200"/><rect x="626.3" y="258.77" width="18.0" height="355.13" fill="#007800"/><rect x="626.3" y="268.37" width="18.0" height="345.53" fill="#006D00"/><rect x="626.3" y="277.97" width="18.0" height="335.93" fill="#006300"/><rect x="626.3" y="287.57" width="18.0" height="326.33" fill="#005800"/><rect x="626.3" y="297.17" width="18.0" height="316.73" fill="#004E00"/><rect x="626.3" y="306.76" width="18.0" height="307.14" fill="#004400"/><rect x="626.3" y="316.36" width="18.0" height="297.54" fill="#003900"/><rect x="626.3" y="325.96" width="18.0" height="287.94" fill="#002F00"/><rect x="626.3" y="335.56" width="18.0" height="278.34" fill="#002400"/><rect x="626.3" y="345.16" width="18.0" height="268.74" fill="#001A00"/><rect x="626.3" y="354.75" width="18.0" height="259.15" fill="#001000"/><rect x="626.3" y="364.35" width="18.0" height="249.55" fill="#000500"/><rect x="626.3" y="373.95" width="18.0" height="239.95" fill="#050300"/><rect x="626.3" y="383.55" width="18.0" height="230.35" fill="#100A00"/><rect x="626.3" y="393.15" width="18.0" height="220.75" fill="#1A1100"/><rect x="626.3" y="402.74" width="18.0" height="211.16" fill="#241800"/><rect x="626.3" y="412.34" width="18.0" height="201.56" fill="#2F1E00"/><rect x="626.3" y="421.94" width="18.0" height="191.96" fill="#392500"/><rect x="626.3" y="431.54" width="18.0" height="182.36" fill="#442C00"/><rect x="626.3" y="441.14" width="18.0" height="172.76" fill="#4E3300"/><rect x="626.3" y="450.73" width="18.0" height="163.17" fill="#583900"/><rect x="626.3" y="460.33" width="18.0" height="153.57" fill="#634000"/><rect x="626.3" y="469.93" width="18.0" height="143.97" fill="#6D4700"/><rect x="626.3" y="479.53" width="18.0" height="134.37" fill="#784D00"/><rect x="626.3" y="489.13" width="18.0" height="124.77" fill="#825400"/><rect x="626.3" y="498.72" width="18.0" height="115.18" fill="#8D5B00"/><rect x="626.3" y="508.32" width="18.0" height="105.58" fill="#976200"/><rect x="626.3" y="517.92" width="18.0" height="95.98" fill="#A16800"/><rect x="626.3" y="527.52" width="18.0" height="86.38" fill="#AC6F00"/><rect x="626.3" y="537.12" width="18.0" height="76.78" fill="#B67600"/><rect x="626.3" y="546.71" width="18.0" height="67.19" fill="#C17D00"/><rect x="626.3" y="556.31" width="18.0" height="57.59" fill="#CB8300"/><rect x="626.3" y="565.91" width="18.0" height="47.99" fill="#D58A00"/><rect x="626.3" y="575.51" width="18.0" height="38.39" fill="#E09100"/><rect x="626.3" y="585.11" width="18.0" height="28.79" fill="#EA9800"/><rect x="626.3" y="594.70" width="18.0" height="19.20" fill="#F59E00"/><rect x="626.3" y="604.30" width="18.0" height="9.60" fill="#FFA500"/></g><rect x="626.3" y="134" width="18.0" height="479.9" fill="none" stroke="#000" stroke-width="1.5"/><g fill="#000"><line x1="644.3" y1="134.00" x2="648.3" y2="134.00" stroke="#000" stroke-width="1.5"/><text x="666.3" y="140.30" font-size="16.3" text-anchor="middle">1</text><line x1="644.3" y1="181.99" x2="648.3" y2="181.99" stroke="#000" stroke-width="1.5"/><text x="666.3" y="188.29" font-size="16.3" text-anchor="middle">0.8</text><line x1="644.3" y1="229.98" x2="648.3" y2="229.98" stroke="#000" stroke-width="1.5"/><text x="666.3" y="236.28" font-size="16.3" text-anchor="middle">0.6</text><line x1="644.3" y1="277.97" x2="648.3" y2="277.97" stroke="#000" stroke-width="1.5"/><text x="666.3" y="284.27" font-size="16.3" text-anchor="middle">0.4</text><line x1="644.3" y1="325.96" x2="648.3" y2="325.96" stroke="#000" stroke-width="1.5"/><text x="666.3" y="332.26" font-size="16.3" text-anchor="middle">0.2</text><line x1="644.3" y1="373.95" x2="648.3" y2="373.95" stroke="#000" stroke-width="1.5"/><text x="666.3" y="380.25" font-size="16.3" text-anchor="middle">0</text><line x1="644.3" y1="421.94" x2="648.3" y2="421.94" stroke="#000" stroke-width="1.5"/><text x="666.3" y="428.24" font-size="16.3" text-anchor="middle">−0.2</text><line x1="644.3" y1="469.93" x2="648.3" y2="469.93" stroke="#000" stroke-width="1.5"/><text x="666.3" y="476.23" font-size="16.3" text-anchor="middle">−0.4</text><line x1="644.3" y1="517.92" x2="648.3" y2="517.92" stroke="#000" stroke-width="1.5"/><text x="666.3" y="524.22" font-size="16.3" text-anchor="middle">−0.6</text><line x1="644.3" y1="565.91" x2="648.3" y2="565.91" stroke="#000" stroke-width="1.5"/><text x="666.3" y="572.21" font-size="16.3" text-anchor="middle">−0.8</text><line x1="644.3" y1="613.90" x2="648.3" y2="613.90" stroke="#000" stroke-width="1.5"/><text x="666.3" y="620.20" font-size="16.3" text-anchor="middle">−1</text></g>
</svg></body></html>
